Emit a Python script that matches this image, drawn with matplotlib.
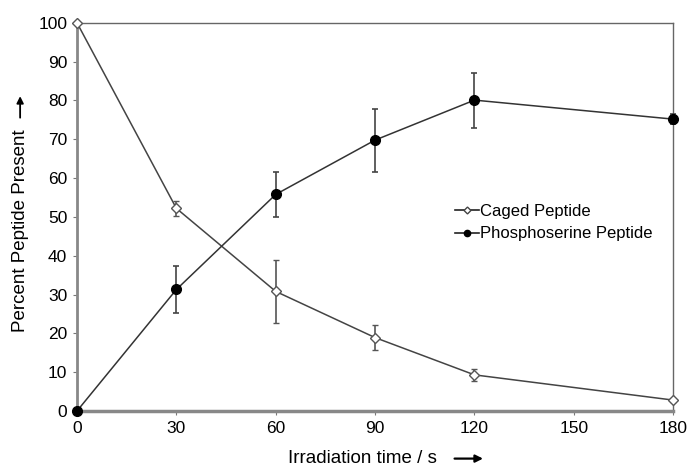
import matplotlib.pyplot as plt
from matplotlib.lines import Line2D

plt.rcParams['font.family'] = ['Liberation Sans', 'DejaVu Sans']

# data
time = [0, 30, 60, 90, 120, 180]
caged = [100, 52.2, 30.8, 18.9, 9.3, 2.8]
caged_err = [0, 2.0, 8.2, 3.3, 1.6, 0.4]
phospho = [0, 31.3, 55.8, 69.8, 80.1, 75.2]
phospho_err = [0, 6.0, 5.8, 8.1, 7.1, 1.3]

fig = plt.figure(figsize=(6.94, 4.67), dpi=100)
ax = fig.add_axes([0.111, 0.120, 0.859, 0.831])

ax.errorbar(time, caged, yerr=caged_err, color='#444444', lw=1.1,
            marker='D', ms=5.5, mfc='white', mec='#555555', mew=1,
            ecolor='#555555', elinewidth=1.2, capsize=2.5, capthick=1.2,
            clip_on=False, zorder=3)
ax.errorbar(time, phospho, yerr=phospho_err, color='#333333', lw=1.1,
            marker='o', ms=7, mfc='black', mec='black',
            ecolor='#444444', elinewidth=1.2, capsize=2.5, capthick=1.2,
            clip_on=False, zorder=4)

ax.set_xlim(0, 180)
ax.set_ylim(0, 100)
ax.set_xticks(range(0, 181, 30))
ax.set_yticks(range(0, 101, 10))
ax.tick_params(labelsize=12.5, length=3, color='#777777', pad=4)

for side in ['top', 'right']:
    ax.spines[side].set_color('#666666')
    ax.spines[side].set_linewidth(1)
ax.spines['left'].set_color('#888888')
ax.spines['left'].set_linewidth(2)
ax.spines['bottom'].set_color('#888888')
ax.spines['bottom'].set_linewidth(2.5)

handles = [
    Line2D([], [], color='#222222', lw=1.2, marker='D', ms=3.5, mfc='white', mec='#444444'),
    Line2D([], [], color='#222222', lw=1.2, marker='o', ms=4.5, mfc='black', mec='black'),
]
ax.legend(handles, ['Caged Peptide', 'Phosphoserine Peptide'],
          loc='upper left', bbox_to_anchor=(0.62, 0.555), frameon=False,
          fontsize=12, handlelength=1.45, handletextpad=0.05,
          labelspacing=0.45, borderpad=0)

# axis labels with arrows
fig.text(0.522, 0.018, 'Irradiation time / s', ha='center', va='center', fontsize=13.5)
ax.annotate('', xy=(0.700, 0.018), xytext=(0.651, 0.018),
            xycoords='figure fraction',
            arrowprops=dict(arrowstyle='-|>', color='black', lw=1.6, mutation_scale=11))
fig.text(0.029, 0.507, 'Percent Peptide Present', ha='center', va='center',
         rotation=90, fontsize=13.5)
ax.annotate('', xy=(0.029, 0.800), xytext=(0.029, 0.742),
            xycoords='figure fraction',
            arrowprops=dict(arrowstyle='-|>', color='black', lw=1.3, mutation_scale=10))

fig.savefig('out.png', dpi=100)
